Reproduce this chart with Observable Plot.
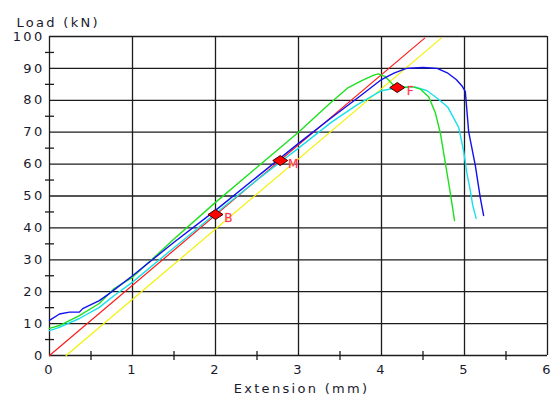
<!DOCTYPE html>
<html>
<head>
<meta charset="utf-8">
<script src="https://cdn.jsdelivr.net/npm/d3@7"></script>
<script src="https://cdn.jsdelivr.net/npm/@observablehq/plot@0.6"></script>
<style>
  html, body { margin: 0; padding: 0; background: #fff; }
  #chart svg { display: block; }
</style>
</head>
<body>
<div id="chart"></div>
<script>
// Axis ticks
const xTicks = [0, 1, 2, 3, 4, 5, 6];
const xMinor = [0.5, 1.5, 2.5, 3.5, 4.5, 5.5];
const yTicks = [0, 10, 20, 30, 40, 50, 60, 70, 80, 90, 100];
const yMinor = [5, 15, 25, 35, 45, 55, 65, 75, 85, 95];

// Reference lines (red: modulus line, yellow: offset line)
const redX = [0, 4.52];
const redY = [0, 99.5];
const yellowX = [0.2, 4.72];
const yellowY = [0, 99.5];

// Test curves
const blueX = [0, 0.12, 0.24, 0.36, 0.4, 0.6, 0.72, 1.0, 1.5, 2.0, 2.5, 3.0, 3.4, 3.7, 4.0, 4.15, 4.3, 4.5, 4.67, 4.8, 4.9, 4.97, 5.01, 5.05, 5.13, 5.19, 5.23];
const blueY = [11, 13, 13.6, 13.6, 14.7, 17.2, 19.4, 25, 35.5, 45.5, 56, 66.5, 74.6, 80.5, 86.5, 88.5, 90, 90.3, 90, 88.5, 86.5, 84.5, 82.7, 70.2, 59.6, 49.5, 43.9];

const greenX = [0, 0.12, 0.36, 0.6, 0.78, 1.0, 1.5, 2.0, 2.5, 3.0, 3.39, 3.6, 3.75, 3.9, 3.96, 4.04, 4.1, 4.15, 4.25, 4.38, 4.47, 4.57, 4.65, 4.71, 4.77, 4.83, 4.88];
const greenY = [8.5, 9.4, 12.5, 16.3, 21, 24.5, 36.5, 48, 59, 70, 79.3, 84, 86, 87.8, 88.3, 87.5, 86, 84.5, 84, 84.2, 83.5, 81, 76, 69.6, 60.2, 50.8, 42.3];

const cyanX = [0, 0.12, 0.36, 0.6, 0.78, 1.0, 1.5, 2.0, 2.5, 3.0, 3.39, 3.7, 4.0, 4.2, 4.4, 4.55, 4.68, 4.8, 4.93, 4.99, 5.03, 5.07, 5.1, 5.14];
const cyanY = [7.8, 8.8, 11.6, 15.1, 18.8, 23, 33.8, 44.5, 55, 65, 73, 78.5, 83, 84, 84.2, 83, 80.5, 77.8, 71.5, 64, 57, 51.7, 47, 43];

// Marked points
const markLabels = ["B", "M", "F"];
const markX = [2.0, 2.78, 4.19];
const markY = [44.2, 61.1, 84.0];

const toRows = (xs, ys) => xs.map((x, i) => ({x, y: ys[i]}));
const marks = markLabels.map((t, i) => ({t, x: markX[i], y: markY[i]}));

const wideDiamond = {
  draw(context) {
    const w = 7.5, h = 5;
    context.moveTo(-w, 0);
    context.lineTo(0, -h);
    context.lineTo(w, 0);
    context.lineTo(0, h);
    context.closePath();
  }
};
const hTick = {draw(context) { context.moveTo(-4.5, 0); context.lineTo(4.5, 0); }};
const vTick = {draw(context) { context.moveTo(0, -4.5); context.lineTo(0, 4.5); }};

const gridColor = "#1c1c1c";
const textColor = "#1a1a2e";

const chart = Plot.plot({
  width: 558,
  height: 403,
  marginLeft: 49,
  marginRight: 11,
  marginTop: 36,
  marginBottom: 48,
  style: {
    fontFamily: "'DejaVu Sans', sans-serif",
    fontSize: "13px",
    color: textColor,
    background: "#ffffff",
    letterSpacing: "2.3px"
  },
  x: {domain: [0, 6]},
  y: {domain: [0, 100]},
  marks: [
    Plot.ruleX(xTicks, {stroke: gridColor, strokeWidth: 1.3}),
    Plot.ruleY(yTicks, {stroke: gridColor, strokeWidth: 1.3}),
    Plot.axisX({ticks: xTicks, tickSize: 0, tickPadding: 9, tickFormat: d => String(d), label: null, fill: textColor}),
    Plot.axisY({ticks: yTicks, tickSize: 0, tickPadding: 5, tickFormat: d => String(d), label: null, fill: textColor}),
    Plot.dot(xMinor, {x: d => d, y: () => 0, symbol: vTick, stroke: gridColor, strokeWidth: 1.3, fill: "none"}),
    Plot.dot(yMinor, {x: () => 0, y: d => d, symbol: hTick, stroke: gridColor, strokeWidth: 1.3, fill: "none"}),
    Plot.text(["Load (kN)"], {frameAnchor: "top-left", dx: -33, dy: -19, textAnchor: "start", fill: textColor}),
    Plot.text(["Extension (mm)"], {frameAnchor: "bottom", dx: 3, dy: 37, fill: textColor}),
    Plot.line(toRows(yellowX, yellowY), {x: "x", y: "y", stroke: "#f2f200", strokeWidth: 1.2}),
    Plot.line(toRows(redX, redY), {x: "x", y: "y", stroke: "#ff1a1a", strokeWidth: 1.2}),
    Plot.line(toRows(cyanX, cyanY), {x: "x", y: "y", stroke: "#16e0ea", strokeWidth: 1.4}),
    Plot.line(toRows(greenX, greenY), {x: "x", y: "y", stroke: "#1ee01e", strokeWidth: 1.4}),
    Plot.line(toRows(blueX, blueY), {x: "x", y: "y", stroke: "#1010f0", strokeWidth: 1.4}),
    Plot.dot(marks, {x: "x", y: "y", symbol: wideDiamond, fill: "#ff0000", stroke: "#3a0000", strokeWidth: 1}),
    Plot.text(marks, {x: "x", y: "y", text: "t", dx: 14, dy: 4, fill: "#ff3355", stroke: "#ff9aa8", strokeWidth: 0.4, fontSize: 12})
  ]
});
document.getElementById("chart").appendChild(chart);
</script>
</body>
</html>
